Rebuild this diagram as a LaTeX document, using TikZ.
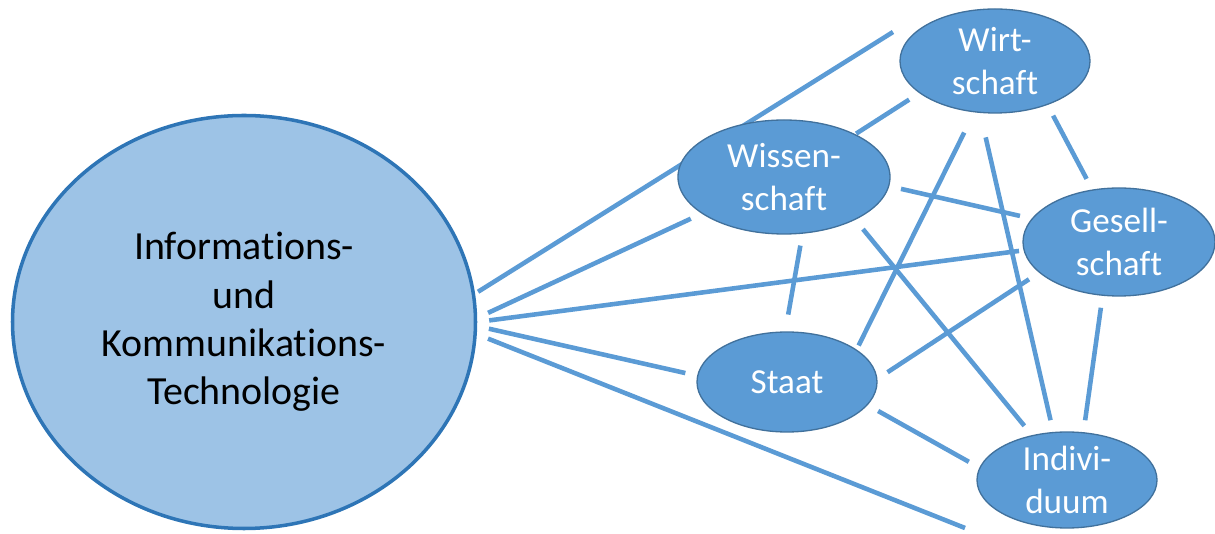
\documentclass[tikz,border=0pt]{standalone}
\usepackage{fontspec}
\setmainfont{Carlito}[Ligatures=NoCommon]
\usepackage{tikz}
\usetikzlibrary{shapes.geometric,backgrounds}
\definecolor{ACCblue}{HTML}{5B9BD5}
\definecolor{ACClight}{HTML}{9DC3E6}
\definecolor{ACCdark}{HTML}{2E75B6}
\definecolor{ACCedge}{HTML}{41719C}

\begin{document}
\begin{tikzpicture}[
    topic/.style={ellipse, draw=ACCedge, line width=0.75pt, fill=ACCblue, text=white,
      align=center, inner sep=0pt, font=\fontsize{20}{24}\selectfont},
    link/.style={ACCblue, line width=2.6pt, shorten <=0.24cm, shorten >=0.24cm}
  ]
  \useasboundingbox (0,0) rectangle (24.3,10.68);
  % central topic
  \node[ellipse, draw=ACCdark, line width=2pt, fill=ACClight, inner sep=0pt,
    minimum width=9.26cm, minimum height=8.26cm, align=center,
    font=\fontsize{22.7}{27.5}\selectfont] (ikt) at (4.88,4.24)
    {Informations-\\und\\Kommunikations-\\Technologie};
  % areas
  \node[topic, minimum width=3.8cm, minimum height=2.08cm] (wirt) at (19.90,9.46) {Wirt-\\schaft};
  \node[topic, minimum width=4.24cm, minimum height=2.28cm] (wiss) at (15.68,7.14) {Wissen-\\schaft};
  \node[topic, minimum width=3.84cm, minimum height=2.16cm] (gesell) at (22.38,5.84) {Gesell-\\schaft};
  \node[topic, minimum width=3.6cm, minimum height=2.0cm] (staat) at (15.74,3.04) {Staat};
  \node[topic, minimum width=3.6cm, minimum height=1.92cm] (indiv) at (21.34,1.08) {Indivi-\\duum};
  \coordinate (endA) at (17.86,10.04);
  \coordinate (endE) at (19.30,0.12);
  \begin{scope}[on background layer]
    % from the central topic
    \draw[link, shorten <=0.07cm, shorten >=0pt] (ikt.7.5) -- (endA);
    \draw[link] (ikt.1.7) -- (wiss.204.8);
    \draw[link, shorten >=0.09cm] (ikt.0) -- (gesell.185.7);
    \draw[link] (ikt.-1.1) -- (staat.176.8);
    \draw[link, shorten >=0pt] (ikt.-3.2) -- (endE);
    % between the areas
    \draw[link, shorten <=0.02cm] (wiss.31.2) -- (wirt.203.5);
    \draw[link] (wiss.-5.9) -- (gesell.165.6);
    \draw[link, shorten >=0.34cm] (wiss.-72.6) -- (staat.92);
    \draw[link] (wiss.-31.9) -- (indiv.128.5);
    \draw[link, shorten <=0.45cm, shorten >=0.09cm] (wirt.248.7) -- (staat.25.8);
    \draw[link, shorten <=0.5cm] (wirt.254.1) -- (indiv.106.6);
    \draw[link] (wirt.-40.3) -- (gesell.117.2);
    \draw[link] (gesell.253.4) -- (indiv.71.2);
    \draw[link] (staat.2.4) -- (gesell.201.3);
    \draw[link] (staat.-16.9) -- (indiv.172.4);
  \end{scope}
\end{tikzpicture}
\end{document}
